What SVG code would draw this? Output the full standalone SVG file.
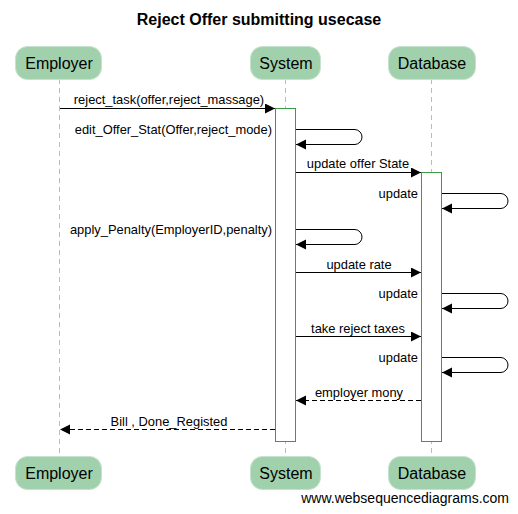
<svg xmlns="http://www.w3.org/2000/svg" width="518" height="514" viewBox="0 0 518 514">
<style>
text{font-family:"Liberation Sans",Arial,sans-serif;fill:#000}
.head rect{fill:#a0d0ac;stroke:#c4e2cc;stroke-width:1}
.head text{font-size:16px;text-anchor:middle}
.life{stroke:#bbb;stroke-width:1;stroke-dasharray:5,4}
.act{fill:#fff;stroke:#3c9a46;stroke-width:1}
.msg{stroke:#000;stroke-width:1;fill:none}
.dash{stroke-dasharray:5,3}
.lbl{font-size:12.9px}
</style>
<defs>
<marker id="ah" markerWidth="11" markerHeight="11" refX="10" refY="5" orient="auto" markerUnits="userSpaceOnUse">
<path d="M0,0 L10,5 L0,10 Z" fill="#000"/>
</marker>
</defs>
<rect width="518" height="514" fill="#fff"/>
<text x="259" y="25" font-size="16" font-weight="bold" text-anchor="middle">Reject Offer submitting usecase</text>
<g id="lifelines">
<line class="life" x1="59.5" y1="79" x2="59.5" y2="456"/>
<line class="life" x1="285.5" y1="79" x2="285.5" y2="456"/>
<line class="life" x1="431.5" y1="79" x2="431.5" y2="456"/>
</g>
<g id="Employer" class="head">
<rect x="15.5" y="46.5" width="86" height="33" rx="12"/>
<text x="59" y="69">Employer</text>
<rect x="15.5" y="456.5" width="86" height="33" rx="12"/>
<text x="59" y="479">Employer</text>
</g>
<g id="System" class="head">
<rect x="250.5" y="46.5" width="70" height="33" rx="12"/>
<text x="286" y="69">System</text>
<rect x="250.5" y="456.5" width="70" height="33" rx="12"/>
<text x="286" y="479">System</text>
</g>
<g id="Database" class="head">
<rect x="388.5" y="46.5" width="87" height="33" rx="12"/>
<text x="432" y="69">Database</text>
<rect x="388.5" y="456.5" width="87" height="33" rx="12"/>
<text x="432" y="479">Database</text>
</g>
<g id="activations">
<rect class="act" x="275.5" y="108.5" width="20" height="333"/>
<rect class="act" x="421.5" y="172.5" width="20" height="269"/>
</g>
<g id="connectors">
<line class="msg" x1="60" y1="108.5" x2="275" y2="108.5" marker-end="url(#ah)"/>
<text class="lbl" x="169" y="104" text-anchor="middle">reject_task(offer,reject_massage)</text>

<path class="msg" d="M296,129.5 H355 A7.5,7.5 0 0 1 362,137 A7.5,7.5 0 0 1 355,144.5 H296" marker-end="url(#ah)"/>
<text class="lbl" x="272" y="134" text-anchor="end">edit_Offer_Stat(Offer,reject_mode)</text>

<line class="msg" x1="296" y1="172.5" x2="421" y2="172.5" marker-end="url(#ah)"/>
<text class="lbl" x="358" y="168" text-anchor="middle">update offer State</text>

<path class="msg" d="M442,193.5 H501 A7.5,7.5 0 0 1 508,201 A7.5,7.5 0 0 1 501,208.5 H442" marker-end="url(#ah)"/>
<text class="lbl" x="418" y="198" text-anchor="end">update</text>

<path class="msg" d="M296,229.5 H355 A7.5,7.5 0 0 1 362,237 A7.5,7.5 0 0 1 355,244.5 H296" marker-end="url(#ah)"/>
<text class="lbl" x="272" y="234" text-anchor="end">apply_Penalty(EmployerID,penalty)</text>

<line class="msg" x1="296" y1="272.5" x2="421" y2="272.5" marker-end="url(#ah)"/>
<text class="lbl" x="359" y="269" text-anchor="middle">update rate</text>

<path class="msg" d="M442,293.5 H501 A7.5,7.5 0 0 1 508,301 A7.5,7.5 0 0 1 501,308.5 H442" marker-end="url(#ah)"/>
<text class="lbl" x="418" y="298" text-anchor="end">update</text>

<line class="msg" x1="296" y1="336.5" x2="421" y2="336.5" marker-end="url(#ah)"/>
<text class="lbl" x="358" y="333" text-anchor="middle">take reject taxes</text>

<path class="msg" d="M442,357.5 H501 A7.5,7.5 0 0 1 508,365 A7.5,7.5 0 0 1 501,372.5 H442" marker-end="url(#ah)"/>
<text class="lbl" x="418" y="362" text-anchor="end">update</text>

<line class="msg dash" x1="421" y1="400.5" x2="296" y2="400.5" marker-end="url(#ah)"/>
<text class="lbl" x="359" y="397" text-anchor="middle">employer mony</text>

<line class="msg dash" x1="275" y1="429.5" x2="60" y2="429.5" marker-end="url(#ah)"/>
<text class="lbl" x="169" y="426" text-anchor="middle">Bill , Done_Registed</text>
</g>
<text x="509" y="503" font-size="14" text-anchor="end">www.websequencediagrams.com</text>
</svg>
